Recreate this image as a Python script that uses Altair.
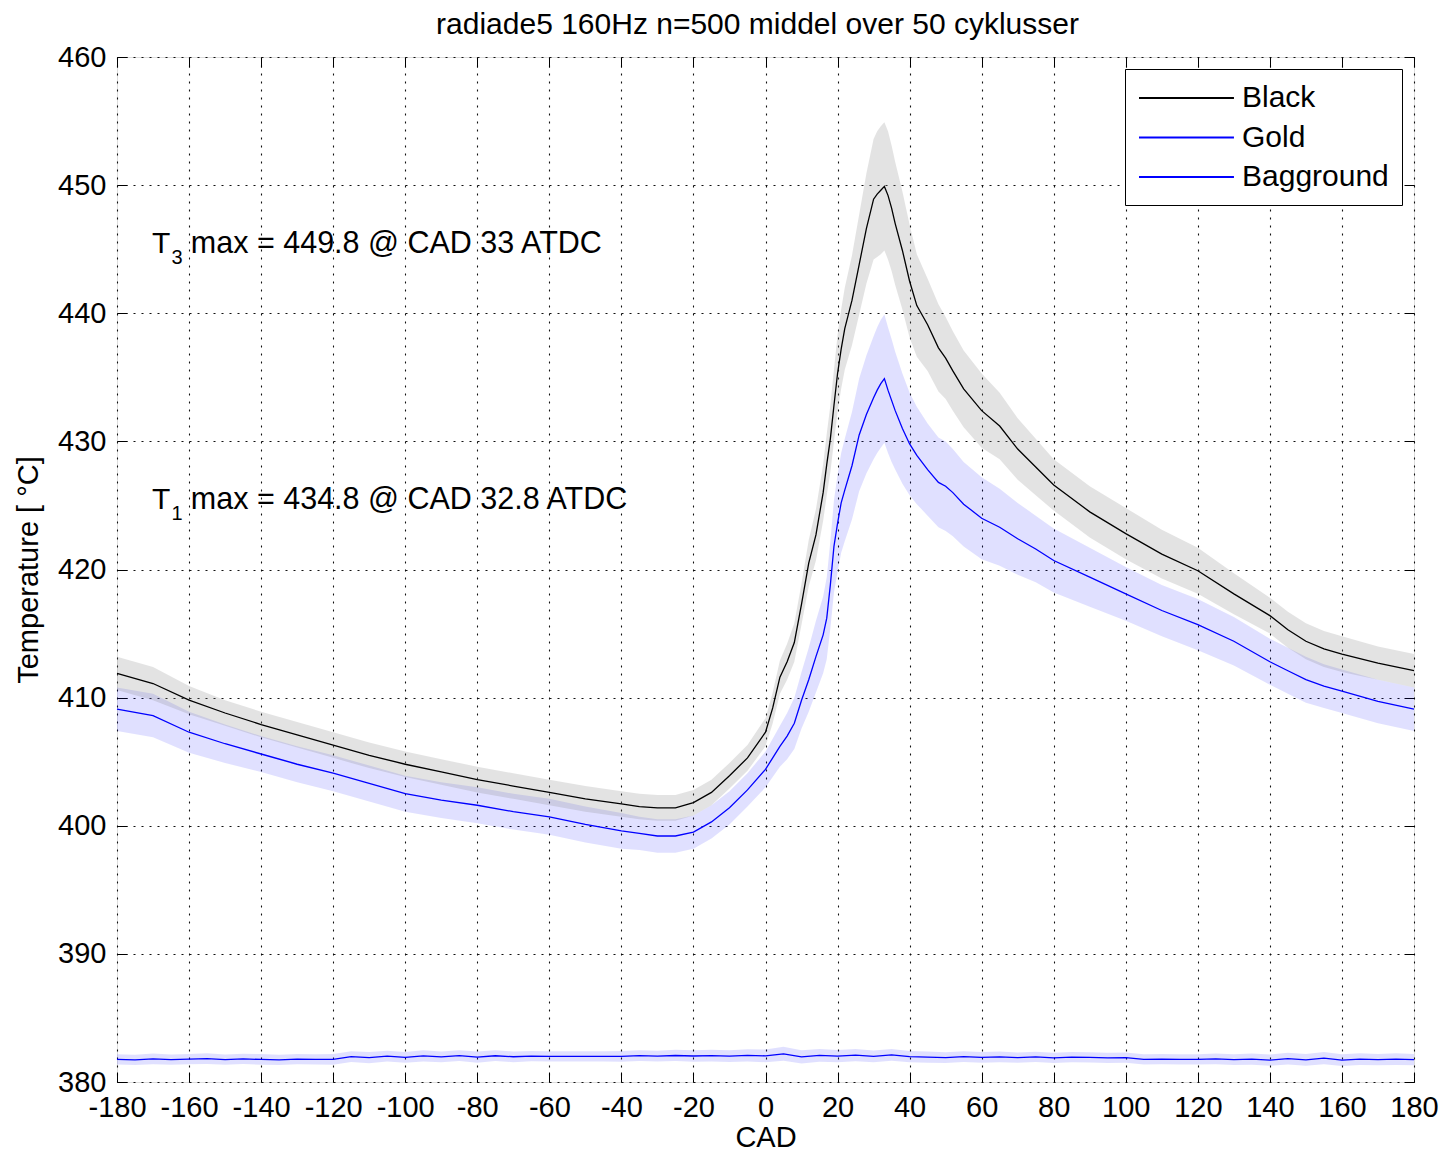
import altair as alt
import pandas as pd

# ---------------- data ----------------
CAD = [-180, -170, -160, -150, -140, -130, -120, -110, -100, -90, -80, -70, -60, -50, -40,
       -35, -30, -25, -20, -15, -10, -5, 0, 2, 4, 6, 8, 10, 12, 14, 16, 17, 18, 19, 20, 21, 22,
       24, 26, 28, 30, 31, 32, 33, 34, 35, 36, 38, 40, 42, 45, 48, 50, 52, 55, 60, 65, 70, 75,
       80, 90, 100, 110, 120, 130, 140, 145, 150, 155, 160, 170, 180]

BLACK = [411.9, 411.1, 409.8, 408.8, 407.9, 407.1, 406.3, 405.5, 404.8, 404.2, 403.6, 403.1,
         402.6, 402.1, 401.7, 401.5, 401.4, 401.4, 401.8, 402.6, 403.9, 405.3, 407.3, 409.2,
         411.6, 412.8, 414.3, 417.3, 420.5, 422.7, 426.0, 428.2, 430.2, 432.8, 435.3, 437.2,
         438.8, 441.0, 443.8, 446.6, 448.9, 449.3, 449.6, 449.9, 449.2, 448.2, 447.0, 444.9,
         442.5, 440.6, 439.1, 437.3, 436.5, 435.5, 434.1, 432.4, 431.2, 429.4, 428.0, 426.6,
         424.5, 422.8, 421.2, 419.9, 418.1, 416.4, 415.3, 414.4, 413.8, 413.4, 412.7, 412.1]

BLACK_SD = [1.3, 1.3, 1.1, 1.0, 1.0, 1.0, 1.0, 1.0, 1.0, 1.0, 1.0, 1.0, 1.0, 1.0, 1.0,
            1.0, 1.0, 1.0, 1.0, 1.0, 1.0, 1.0, 1.1, 1.2, 1.3, 1.4, 1.5, 1.6, 1.8, 2.0, 2.2,
            2.4, 2.6, 2.8, 3.0, 3.1, 3.2, 3.5, 3.9, 4.3, 4.7, 4.9, 5.0, 5.0, 5.0, 4.9, 4.8,
            4.6, 4.4, 4.0, 3.6, 3.4, 3.2, 3.1, 3.0, 2.9, 2.6, 2.4, 2.2, 2.0, 2.0, 2.0, 1.9,
            1.8, 1.6, 1.4, 1.4, 1.4, 1.4, 1.4, 1.3, 1.3]

GOLD = [409.1, 408.6, 407.3, 406.4, 405.6, 404.8, 404.1, 403.3, 402.5, 402.0, 401.6, 401.1,
        400.7, 400.1, 399.6, 399.4, 399.2, 399.2, 399.5, 400.3, 401.4, 402.8, 404.4, 405.3,
        406.2, 407.0, 408.0, 409.8, 411.4, 413.2, 414.9, 416.2, 418.8, 421.8, 423.6, 425.2,
        426.2, 428.1, 430.5, 432.1, 433.4, 434.0, 434.5, 434.9, 434.0, 433.2, 432.4, 431.0,
        429.8, 428.9, 427.8, 426.8, 426.5, 426.0, 425.1, 424.0, 423.3, 422.4, 421.6, 420.7,
        419.4, 418.1, 416.8, 415.7, 414.4, 412.8, 412.1, 411.4, 410.9, 410.5, 409.7, 409.1]

GOLD_SD = [1.7, 1.7, 1.6, 1.5, 1.4, 1.4, 1.4, 1.4, 1.4, 1.4, 1.4, 1.4, 1.4, 1.4, 1.4,
           1.3, 1.3, 1.3, 1.3, 1.3, 1.3, 1.3, 1.4, 1.5, 1.6, 1.8, 2.0, 2.2, 2.5, 2.8, 3.0,
           3.2, 3.4, 3.6, 3.8, 3.9, 4.0, 4.2, 4.4, 4.6, 4.8, 4.9, 5.0, 5.0, 4.9, 4.8, 4.6,
           4.3, 4.0, 3.8, 3.6, 3.5, 3.5, 3.4, 3.3, 3.2, 3.0, 2.8, 2.6, 2.5, 2.3, 2.1, 2.0,
           2.0, 1.9, 1.8, 1.8, 1.8, 1.7, 1.7, 1.7, 1.7]

BKG_CAD = list(range(-180, 181, 5))
BKG = [381.76, 381.72, 381.80, 381.74, 381.78, 381.82, 381.74, 381.80, 381.76, 381.72,
       381.78, 381.76, 381.76, 381.98, 381.90, 382.02, 381.92, 382.04, 381.96, 382.06,
       381.94, 382.05, 381.97, 382.02, 382.00, 382.00, 382.00, 382.00, 382.00, 382.06,
       382.02, 382.07, 382.03, 382.06, 382.02, 382.08, 382.04, 382.20, 381.96, 382.08,
       382.02, 382.10, 382.00, 382.12, 381.98, 381.94, 381.90, 381.98, 381.92, 381.96,
       381.90, 381.96, 381.88, 381.94, 381.92, 381.88, 381.90, 381.76, 381.78, 381.76,
       381.76, 381.80, 381.74, 381.78, 381.70, 381.82, 381.72, 381.86, 381.70, 381.78,
       381.74, 381.78, 381.74]
BKG_SD = [0.40, 0.40, 0.42, 0.40, 0.40, 0.42, 0.40, 0.40, 0.42, 0.40, 0.40, 0.40, 0.42,
          0.42, 0.44, 0.42, 0.42, 0.44, 0.42, 0.42, 0.44, 0.42, 0.42, 0.40, 0.40, 0.40,
          0.40, 0.40, 0.42, 0.42, 0.42, 0.44, 0.44, 0.46, 0.46, 0.48, 0.50, 0.55, 0.52,
          0.50, 0.48, 0.48, 0.46, 0.46, 0.44, 0.44, 0.42, 0.42, 0.42, 0.42, 0.40, 0.40,
          0.40, 0.40, 0.40, 0.40, 0.40, 0.40, 0.40, 0.40, 0.40, 0.42, 0.42, 0.44, 0.44,
          0.46, 0.46, 0.48, 0.46, 0.46, 0.44, 0.46, 0.44]

SERIES = ["Black", "Gold", "Bagground"]
LINE_COLORS = ["#000000", "#0000ff", "#0000ff"]

TITLE = "radiade5 160Hz n=500 middel over 50 cyklusser"
X_TICKS = list(range(-180, 181, 20))
Y_TICKS = list(range(380, 461, 10))

ANN_MAIN = ["max = 449.8 @ CAD 33 ATDC", "max = 434.8 @ CAD 32.8 ATDC"]
ANN_SUB = ["3", "1"]
ANN_Y = [445.4, 425.4]

FONT = "Liberation Sans"

# ---------------- tables ----------------
rows_line, rows_band = [], []
for c, m, s in zip(CAD, BLACK, BLACK_SD):
    rows_line.append({"CAD": c, "T": m, "series": "Black"})
    rows_band.append({"CAD": c, "lo": m - s, "hi": m + s, "series": "Black"})
for c, m, s in zip(CAD, GOLD, GOLD_SD):
    rows_line.append({"CAD": c, "T": m, "series": "Gold"})
    rows_band.append({"CAD": c, "lo": m - s, "hi": m + s, "series": "Gold"})
for c, m, s in zip(BKG_CAD, BKG, BKG_SD):
    rows_line.append({"CAD": c, "T": m, "series": "Bagground"})
    rows_band.append({"CAD": c, "lo": m - s, "hi": m + s, "series": "Bagground"})
lines = pd.DataFrame(rows_line)
bands = pd.DataFrame(rows_band)

ann = pd.DataFrame({
    "x_T": [-170.3, -170.3],
    "x_sub": [-164.9, -164.9],
    "x_main": [-159.5, -159.5],
    "y": ANN_Y,
    "y_sub": [a - 1.1 for a in ANN_Y],
    "main": ANN_MAIN,
    "sub": ANN_SUB,
})

xscale = alt.Scale(domain=[-180, 180], nice=False)
yscale = alt.Scale(domain=[380, 460], nice=False, zero=False)

GRID = dict(grid=True, gridDash=[2, 6], gridColor="#111111", gridOpacity=1, gridWidth=1.1)
x_main_axis = alt.Axis(orient="bottom", values=X_TICKS, title="CAD", **GRID,
                       domain=False, ticks=True, tickSize=10, tickColor="#000000", offset=-10,
                       labelExpr="'' + datum.value",
                       labelFontSize=29, labelFont=FONT, labelColor="#000000", labelPadding=11,
                       labelFlush=False, labelOverlap=False,
                       titleFontSize=29, titleFont=FONT, titleFontWeight="normal",
                       titleColor="#000000", titlePadding=1)
y_main_axis = alt.Axis(orient="left", values=Y_TICKS, title="Temperature [ °C]", **GRID,
                       domain=False, ticks=True, tickSize=10, tickColor="#000000", offset=-10,
                       labelExpr="'' + datum.value",
                       labelFontSize=29, labelFont=FONT, labelColor="#000000", labelPadding=11,
                       labelFlush=False, labelOverlap=False,
                       titleFontSize=29, titleFont=FONT, titleFontWeight="normal",
                       titleColor="#000000", titlePadding=14)
x_top_axis = alt.Axis(orient="top", values=X_TICKS, title=None, grid=False, labels=False,
                      domain=False, ticks=True, tickSize=10, tickColor="#000000", offset=-10,
                      minExtent=0, maxExtent=0)
y_right_axis = alt.Axis(orient="right", values=Y_TICKS, title=None, grid=False, labels=False,
                        domain=False, ticks=True, tickSize=10, tickColor="#000000", offset=-10,
                        minExtent=0, maxExtent=0)

gold_band = alt.Chart(bands).transform_filter(
    alt.FieldOneOfPredicate(field="series", oneOf=["Gold", "Bagground"])
).mark_area(color="#0000ff", opacity=0.12).encode(
    x=alt.X("CAD:Q", scale=xscale, axis=x_main_axis),
    y=alt.Y("lo:Q", scale=yscale, axis=y_main_axis),
    y2="hi:Q",
    detail="series:N",
)

black_band = alt.Chart(bands).transform_filter(
    alt.datum.series == "Black"
).mark_area(color="#808080", opacity=0.22).encode(
    x=alt.X("CAD:Q", scale=xscale, axis=x_top_axis),
    y=alt.Y("lo:Q", scale=yscale, axis=y_right_axis),
    y2="hi:Q",
)

line_layer = alt.Chart(lines).mark_line(strokeWidth=1.3).encode(
    x=alt.X("CAD:Q", scale=xscale, axis=None),
    y=alt.Y("T:Q", scale=yscale, axis=None),
    color=alt.Color("series:N", scale=alt.Scale(domain=SERIES, range=LINE_COLORS),
                    sort=SERIES,
                    legend=alt.Legend(title=None, orient="top-right", offset=12,
                                      fillColor="white", strokeColor="#000000",
                                      padding=13, cornerRadius=0,
                                      symbolType="M-1,0L5.33,0", symbolSize=900,
                                      symbolStrokeWidth=1.8, labelFontSize=30,
                                      labelFont=FONT, labelColor="#000000",
                                      labelOffset=72, rowPadding=8.5, labelLimit=0)),
)

t_layer = alt.Chart(ann).mark_text(align="left", baseline="middle", fontSize=30, font=FONT,
                                   color="#000000").encode(
    x=alt.X("x_T:Q", scale=xscale, axis=None),
    y=alt.Y("y:Q", scale=yscale, axis=None),
    text=alt.value("T"),
)
sub_layer = alt.Chart(ann).mark_text(align="left", baseline="middle", fontSize=20, font=FONT,
                                     color="#000000").encode(
    x=alt.X("x_sub:Q", scale=xscale, axis=None),
    y=alt.Y("y_sub:Q", scale=yscale, axis=None),
    text="sub:N",
)
main_layer = alt.Chart(ann).mark_text(align="left", baseline="middle", fontSize=30.5, font=FONT,
                                      color="#000000").encode(
    x=alt.X("x_main:Q", scale=xscale, axis=None),
    y=alt.Y("y:Q", scale=yscale, axis=None),
    text="main:N",
)

chart = alt.layer(gold_band, black_band, line_layer, t_layer, sub_layer, main_layer).resolve_axis(
    x="independent", y="independent"
).properties(
    width=1297, height=1025,
    autosize=alt.AutoSizeParams(type="none"),
    padding={"left": 109, "top": 49, "right": 27, "bottom": 70},
    title=alt.Title(TITLE, fontSize=30, font=FONT, fontWeight="normal", color="#000000",
                    anchor="middle", offset=17, dy=14, dx=-8),
).configure_view(stroke="#000000", strokeWidth=1.3).configure(background="white")

chart.save("out.html", embed_options={"renderer": "svg", "actions": False})
